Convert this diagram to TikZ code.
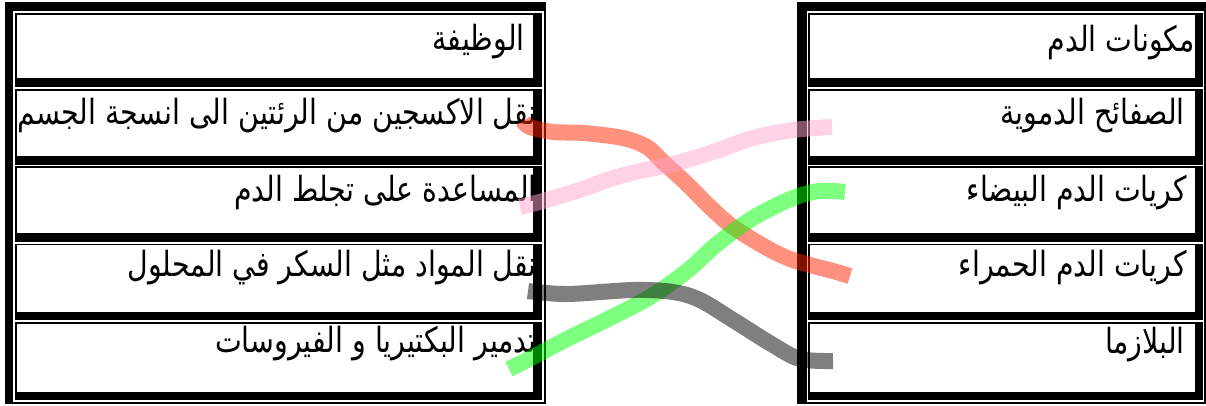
\documentclass[tikz,border=0pt]{standalone}
\usepackage{fontspec}
\newfontfamily\arabicfont[Script=Arabic, FakeStretch=0.82]{DejaVu Sans}
\TeXXeTstate=1
\definecolor{linkred}{RGB}{255,35,0}
\definecolor{linkpink}{RGB}{255,165,205}
\definecolor{linkgreen}{RGB}{0,255,0}
\usetikzlibrary{calc}

\begin{document}
\begin{tikzpicture}[x=0.75pt, y=-0.75pt,
    tbl/.style={fill=black},
    hole/.style={fill=white},
    lbl/.style={anchor=base east, inner sep=0pt,
                font=\arabicfont\fontsize{26}{30}\selectfont},
    link/.style={line width=12pt, opacity=0.5, line cap=butt,
                 line join=round},
    link/.append style={smooth, tension=0.55}
  ]
  \useasboundingbox (0,0) rectangle (1206,405);

  % left table
  \fill[tbl]  (5,2) rectangle (546,404);
  \fill[hole] (13.3,11) rectangle (543.5,401.7);
  \foreach \t/\b in {13/86.7, 88.7/164.5, 166.3/241.7, 243.5/320, 321.7/400} {
    \fill[tbl]  (15,\t) rectangle (541.7,\b);
    \fill[hole] (16.8,\t+1.8) rectangle (533.3,\b-8.5);
  }
  % right table
  \fill[tbl]  (797,2) rectangle (1208,404);
  \fill[hole] (806.7,11) rectangle (1203.7,401.7);
  \foreach \t/\b in {13/86.7, 88.7/164.5, 166.3/241.7, 243.5/320, 321.7/400} {
    \fill[tbl]  (808.3,\t) rectangle (1202.7,\b);
    \fill[hole] (810.1,\t+1.8) rectangle (1194.5,\b-8.5);
  }

  \node[lbl] (lhead)  at (525,50)  {\beginR الوظيفة\endR};
  \node[lbl] (loxy)   at (537,124) {\beginR نقل الاكسجين من الرئتين الى انسجة الجسم\endR};
  \node[lbl] (lclot)  at (537,201) {\beginR المساعدة على تجلط الدم\endR};
  \node[lbl] (lsugar) at (537,276) {\beginR نقل المواد مثل السكر في المحلول\endR};
  \node[lbl] (lgerm)  at (537,352) {\beginR تدمير البكتيريا و الفيروسات\endR};

  \node[lbl] (rhead)   at (1195,51)  {\beginR مكونات الدم\endR};
  \node[lbl] (rplate)  at (1185,124) {\beginR الصفائح الدموية\endR};
  \node[lbl] (rwhite)  at (1187,201) {\beginR كريات الدم البيضاء\endR};
  \node[lbl] (rred)    at (1187,276) {\beginR كريات الدم الحمراء\endR};
  \node[lbl] (rplasma) at (1185,353) {\beginR البلازما\endR};

  \coordinate (redS)   at (523,121);
  \coordinate (redE)   at (850,276);
  \coordinate (pinkS)  at (520,207);
  \coordinate (pinkE)  at (832,127);
  \coordinate (greenS) at (509,369);
  \coordinate (greenE) at (845,192);
  \coordinate (grayS)  at (528,291);
  \coordinate (grayE)  at (833,361);

  % hand drawn matching strokes
  \draw[link, linkred] plot coordinates {(redS) (530,127) (553,132) (583,133)
    (623,138) (647,147) (662,161) (687,184) (710,207) (733,227) (767,248)
    (790,259) (810,265) (833,271) (redE)};
  \draw[link, linkpink] plot coordinates {(pinkS) (543,201) (583,189) (610,179)
    (640,171) (673,164) (713,152) (753,138) (793,130) (pinkE)};
  \draw[link, linkgreen] plot coordinates {(greenS) (533,357) (567,339)
    (610,318) (650,297) (687,271) (717,244) (753,218) (793,198) (820,191)
    (greenE)};
  \draw[link, black] plot coordinates {(grayS) (567,294) (633,290) (673,292)
    (700,300) (733,320) (773,345) (800,359) (grayE)};
\end{tikzpicture}
\end{document}
